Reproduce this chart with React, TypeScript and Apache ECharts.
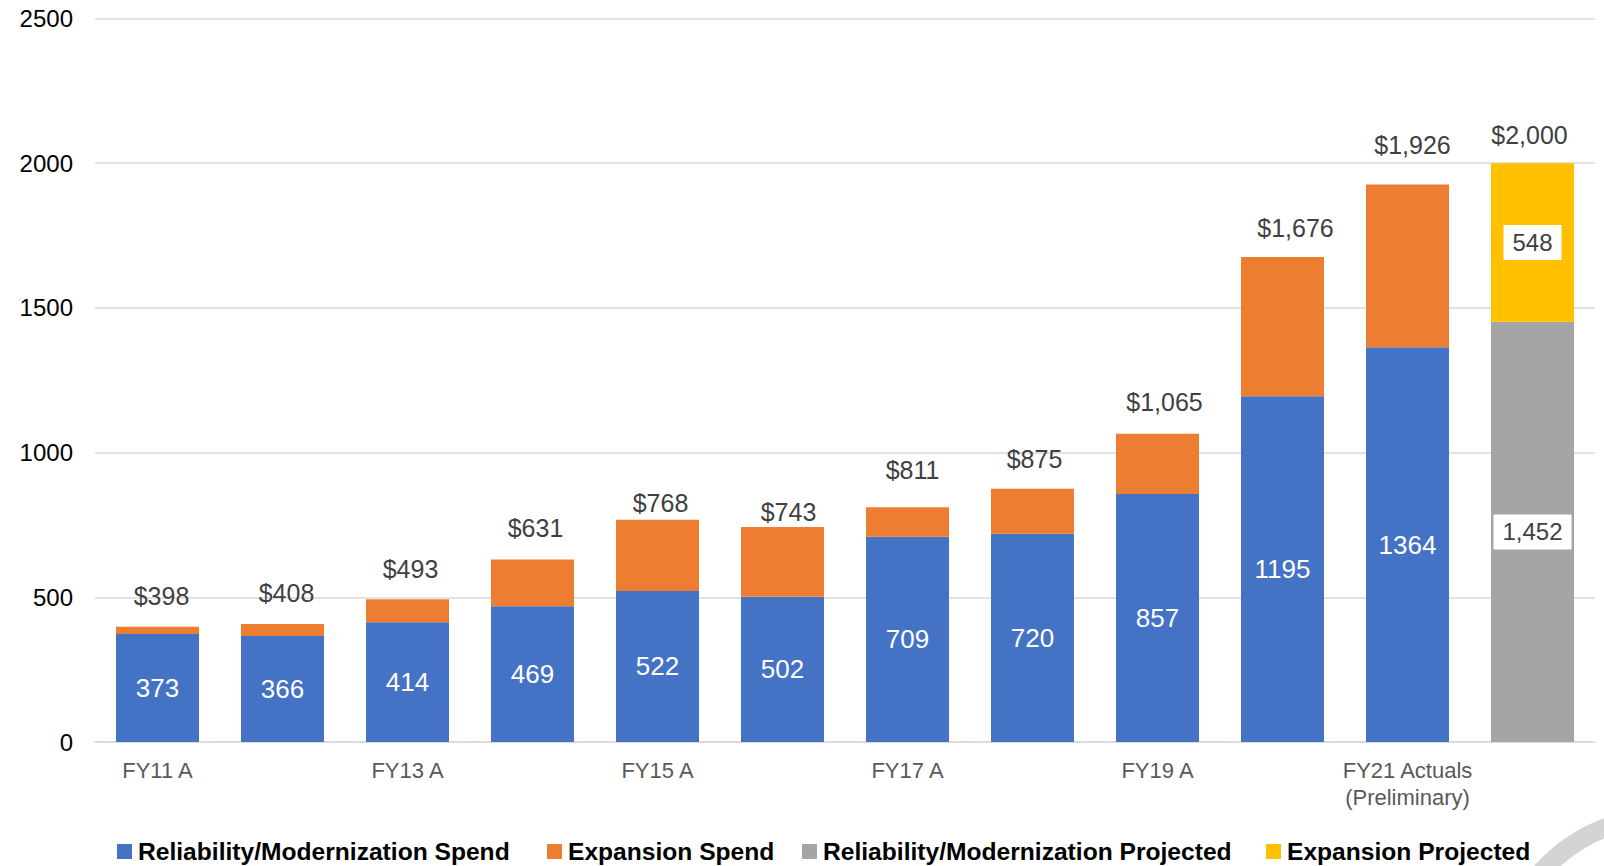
import React, { useEffect, useRef } from "react";
import * as echarts from "echarts";

const categories = [
  "FY11 A",
  "FY12 A",
  "FY13 A",
  "FY14 A",
  "FY15 A",
  "FY16 A",
  "FY17 A",
  "FY18 A",
  "FY19 A",
  "FY20 A",
  "FY21 Actuals\n(Preliminary)",
  "FY22 Projected",
];

const reliabilitySpend = [373, 366, 414, 469, 522, 502, 709, 720, 857, 1195, 1364, null];
const expansionSpend = [25, 42, 79, 162, 246, 241, 102, 155, 208, 481, 562, null];
const reliabilityProjected = [null, null, null, null, null, null, null, null, null, null, null, 1452];
const expansionProjected = [null, null, null, null, null, null, null, null, null, null, null, 548];

const yTicks = { min: 0, max: 2500, interval: 500 };

const legendNames = [
  "Reliability/Modernization Spend",
  "Expansion Spend",
  "Reliability/Modernization Projected",
  "Expansion Projected",
];

// label nudges (style only) for the total labels, as placed in the original
const totalLabelNudge: [number, number][] = [
  [4, 0], [4, 0], [3, 0], [3, -1], [3, 14], [6, 16],
  [5, -7], [2, 1], [7, -1], [13, 2], [5, -9], [-3, 2],
];

const COLORS = ["#4472C4", "#ED7D31", "#A5A5A5", "#FFC000"];
const FONT = "'Liberation Sans', Arial, sans-serif";

const fmtThousands = (v: number) => v.toLocaleString("en-US");

export default function App() {
  const ref = useRef<HTMLDivElement>(null);

  useEffect(() => {
    if (!ref.current) return;
    const chart = echarts.init(ref.current, null, { renderer: "svg" });

    const totals = categories.map(
      (_, i) =>
        (reliabilitySpend[i] ?? 0) +
        (expansionSpend[i] ?? 0) +
        (reliabilityProjected[i] ?? 0) +
        (expansionProjected[i] ?? 0)
    );

    const toData = (arr: (number | null)[]) => arr.map((v) => (v == null ? "-" : v));

    const boxLabel = {
      show: true,
      position: "inside",
      color: "#404040",
      fontSize: 24,
      fontFamily: FONT,
      backgroundColor: "#ffffff",
      padding: [6, 9, 5, 9],
      formatter: (p: any) => fmtThousands(p.value),
    };

    const legendLefts = [112, 542, 797, 1261];

    const option: any = {
      animation: false,
      backgroundColor: "#ffffff",
      textStyle: { fontFamily: FONT },
      graphic: [
        {
          type: "ring",
          silent: true,
          z: -10,
          shape: { cx: 1662, cy: 978, r: 170, r0: 151 },
          style: { fill: "#d4d4d4" },
        },
      ],
      legend: legendNames.map((name, i) => ({
        data: [name],
        left: legendLefts[i],
        top: 834,
        itemWidth: 15,
        itemHeight: 15,
        icon: "rect",
        itemGap: 0,
        selectedMode: false,
        textStyle: {
          color: "#000000",
          fontSize: 24.6,
          fontWeight: "bold",
          fontFamily: FONT,
          padding: [0, 0, 0, 1],
        },
      })),
      grid: { left: 95, right: 9, top: 18.5, bottom: 124, containLabel: false },
      xAxis: {
        type: "category",
        data: categories,
        axisLine: { show: true, lineStyle: { color: "#d9d9d9", width: 1.5 } },
        axisTick: { show: false },
        axisLabel: {
          interval: 1,
          color: "#595959",
          fontSize: 22,
          fontFamily: FONT,
          margin: 15,
          lineHeight: 27,
        },
      },
      yAxis: {
        type: "value",
        min: yTicks.min,
        max: yTicks.max,
        interval: yTicks.interval,
        axisLine: { show: false },
        axisTick: { show: false },
        splitLine: { lineStyle: { color: "#d9d9d9", width: 1.5 } },
        axisLabel: {
          color: "#000000",
          fontSize: 24,
          fontFamily: FONT,
          margin: 22,
          formatter: (v: number) => String(v),
        },
      },
      series: [
        {
          name: legendNames[0],
          type: "bar",
          stack: "a",
          barCategoryGap: "33.6%",
          barGap: "-100%",
          data: toData(reliabilitySpend),
          itemStyle: { color: COLORS[0] },
          label: {
            show: true,
            position: "inside",
            color: "#ffffff",
            fontSize: 26,
            fontFamily: FONT,
          },
        },
        {
          name: legendNames[1],
          type: "bar",
          stack: "a",
          data: toData(expansionSpend),
          itemStyle: { color: COLORS[1] },
        },
        {
          name: legendNames[2],
          type: "bar",
          stack: "a",
          data: toData(reliabilityProjected),
          itemStyle: { color: COLORS[2] },
          label: boxLabel,
        },
        {
          name: legendNames[3],
          type: "bar",
          stack: "a",
          data: toData(expansionProjected),
          itemStyle: { color: COLORS[3] },
          label: boxLabel,
        },
        {
          name: "Total",
          type: "bar",
          barGap: "-100%",
          barCategoryGap: "33.6%",
          data: totals.map((v, i) => ({
            value: v,
            label: { offset: totalLabelNudge[i] },
          })),
          z: 1,
          silent: true,
          itemStyle: { color: "rgba(0,0,0,0)" },
          label: {
            show: true,
            position: "top",
            distance: 18,
            color: "#404040",
            fontSize: 25,
            fontFamily: FONT,
            formatter: (p: any) => "$" + fmtThousands(p.value),
          },
        },
      ],
    };

    chart.setOption(option);
    return () => chart.dispose();
  }, []);

  return (
    <div
      ref={ref}
      style={{ position: "absolute", left: 0, top: 0, width: 1604, height: 866 }}
    />
  );
}
